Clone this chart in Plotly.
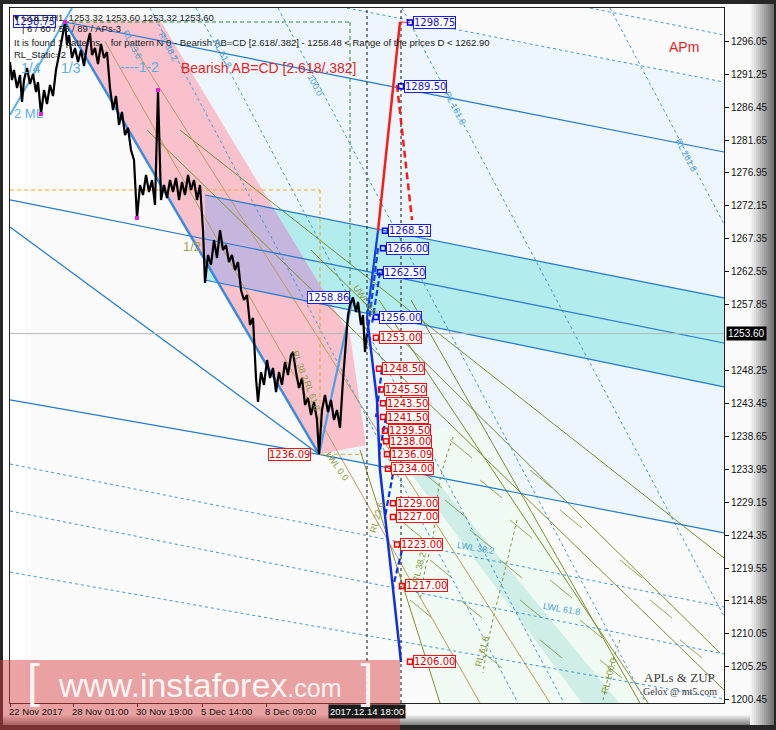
import plotly.graph_objects as go

# ---------------- data ----------------
# H1 price path (bar index counted from the left edge of the chart)
bar_idx = [0,2,4,7,10,12,14,17,20,23,26,28,31,34,37,40,43,46,49,52,55,57,59,62,65,68,71,74,77,80,
           82,85,88,91,94,97,100,103,106,109,112,115,118,121,124,127,130,133,136,139,142,145,148,151,154,157,160,163,166,169,
           172,175,178,181,184,187,190,193,195,198,201,204,207,210,213,216,219,222,225,228,231,234,237,240,243,246,248,251,254,257,
           260,263,266,269,272,275,278,281,283,286,289,292,295,298,301,304,307,309,312,315,318,321,324,327,330,333,336,338,340,343,
           346,348,351,353,355,357]
close = [1293.00,1290.39,1291.85,1289.23,1291.12,1287.20,1290.39,1292.13,1289.81,1291.26,
         1288.65,1290.10,1285.46,1288.94,1286.91,1289.67,1288.07,1291.85,1294.02,1296.20,
         1298.81,1295.47,1296.92,1293.59,1295.04,1293.00,1294.75,1292.43,1295.47,1297.21,
         1294.02,1295.04,1292.72,1295.62,1293.59,1294.46,1289.23,1286.04,1288.07,1283.87,
         1285.75,1282.41,1283.43,1280.24,1278.79,1270.37,1275.16,1273.71,1276.61,1274.14,
         1275.89,1272.26,1288.94,1272.99,1275.16,1273.28,1275.89,1274.14,1276.18,1272.99,
         1275.60,1273.71,1276.61,1274.44,1275.89,1272.99,1275.16,1268.63,1260.95,1265.01,
         1263.56,1267.18,1264.57,1268.63,1265.73,1266.46,1263.99,1265.01,1262.83,1263.99,
         1259.93,1258.48,1259.20,1254.85,1255.87,1247.16,1243.68,1248.03,1246.15,1249.77,
         1247.16,1248.61,1245.13,1248.03,1246.15,1249.48,1247.60,1250.49,1250.93,1248.03,
         1245.71,1247.16,1243.25,1244.27,1241.79,1243.68,1241.07,1236.09,1242.52,1244.70,
         1242.23,1243.97,1241.07,1242.52,1239.91,1246.87,1251.95,1256.30,1257.75,1258.86,
         1256.74,1258.19,1254.85,1256.30,1250.93,1253.60]

pivot_bars = [31, 55, 127, 148]
pivot_prices = [1285.46, 1298.81, 1270.37, 1288.94]

current_price = 1253.60
current_bar = 357
cursor_bars = [357, 391]

ytick_vals = [1296.05,1291.25,1286.45,1281.65,1276.95,1272.15,1267.35,1262.55,1257.85,
              1248.25,1243.45,1238.65,1233.95,1229.15,1224.35,1219.55,1214.85,1210.05,1205.25,1200.45]
xtick_bars = [0, 63, 127, 192, 256]
xtick_text = ["22 Nov 2017", "28 Nov 01:00", "30 Nov 19:00", "5 Dec 14:00", "8 Dec 09:00"]
current_time_text = "2017.12.14 18:00"

# filled zones (bar, price)
zone_lightblue = [(140,1300.84),(337,1300.84),(714,1290.10),(714,1224.68),(309,1236.09)]
zone_green = [(355,1238.2),(469,1240.6),(630,1200.01),(430,1200.01)]
zone_teal = [(376,1238.17),(393,1238.17),(609,1200.01),(572,1200.01)]
zone_cyan = [(195,1273.71),(714,1258.77),(714,1245.86),(195,1261.38)]
zone_pink = [(55,1298.81),(150,1299.10),(340,1253.40),(356,1237.44),(309,1236.09)]

# pattern / channel lines (bar0, price0, bar1, price1)
ab_leg = [(55,1298.81,309,1236.09)]
bc_leg = [(309,1236.09,343,1258.86)]
blue_lines = [(55,1298.81,714,1279.95),
              (195,1273.71,714,1258.77),
              (195,1261.38,714,1245.86),
              (0,1272.99,714,1252.24),
              (0,1269.07,309,1236.09),
              (309,1236.09,714,1224.68),
              (0,1244.0,309,1236.09)]
light_blue_lines = [(0,1285.32,62,1300.84)]
dotted_blue_lines = [(337,1300.84,714,1290.10),
                     (580,1300.84,714,1296.92),
                     (140,1300.84,508,1200.01),
                     (186,1300.84,554,1200.01),
                     (268,1300.84,636,1200.01),
                     (392,1300.84,714,1212.6),
                     (600,1300.84,714,1269.5),
                     (0,1234.68,714,1213.94),
                     (0,1227.87,714,1207.12),
                     (0,1219.0,714,1200.6)]
tan_lines = [(95,1296.0,470,1200.01),
             (120,1296.0,540,1200.01)]
olive_lines = [(137,1283.14,714,1201.90),
               (170,1283.14,714,1221.05),
               (369,1258.48,638,1200.01),
               (301,1265.73,710,1207.27),
               (401,1258.48,630,1200.01),
               (350,1236.72,430,1200.01)]
olive_hatch = [(410,1233.82,432,1231.21),(435,1229.46,457,1226.85),(460,1225.11,482,1222.50),
               (390,1226.56,412,1223.95),(420,1220.76,442,1218.15),(450,1214.96,472,1212.35),
               (400,1214.96,422,1212.35),(470,1207.70,492,1205.09),(490,1220.76,512,1218.15),
               (510,1214.96,532,1212.35),(530,1209.16,552,1206.54),(440,1238.17,462,1235.56),
               (470,1232.37,492,1229.76),(500,1226.56,522,1223.95),(540,1217.86,562,1215.25),
               (570,1212.06,592,1209.45),(590,1206.25,612,1203.64),(520,1233.82,542,1231.21),
               (550,1228.01,572,1225.40),(610,1220.76,632,1218.15),(640,1214.96,662,1212.35),
               (670,1209.16,692,1206.54)]
olive_arcs = [([443,430,423,415,410], [1238.60,1232.37,1224.10,1219.31,1214.96]),
              ([507,495,480,473], [1226.56,1219.31,1210.17,1204.37]),
              ([610,600,593], [1209.16,1204.80,1200.45])]
orange_dashed = [(0,1274.44,310,1274.44),(310,1274.44,310,1236.09),(310,1236.09,353,1236.09)]
green_dashed = [(55,1298.81,340,1298.81),(340,1298.81,340,1258.48)]

red_up = [(368,1268.51,390,1298.81)]
red_down = [(387,1289.67,402,1270.08)]
zup_up = [(357,1256.00,368,1268.51)]
zup_up_dash = [(368,1266.00,357,1253.00),(370,1262.50,362,1255.0)]
zup_down_bars = [357,367,370,378,383,391]
zup_down_prices = [1256.00,1243.97,1233.82,1223.23,1216.84,1205.96]
zup_down_dash = [(383,1233.30,375,1227.00),(392,1222.20,383,1216.84),(372,1248.5,366,1241.5),(376,1241.5,369,1236.0)]

blue_label_prices = [1298.75,1289.50,1268.51,1266.00,1262.50,1256.00]
blue_label_bars = [400,391,375,373,370,366]
red_label_prices = [1253.00,1248.50,1245.50,1243.50,1241.50,1239.50,1238.00,1236.09,1234.00,
                    1229.00,1227.00,1223.00,1217.00,1206.00]
red_label_bars = [366,369,371,373,373,375,376,377,378,383,383,387,392,400]
left_labels = [("1298.75", 55, 1298.81, "blue", -9), ("1258.86", 343, 1258.86, "blue", -3),
               ("1236.09", 309, 1236.09, "red", -8)]

# ---------------- figure ----------------
W, H = 776, 730
L, R, T, B = 10, 724, 8, 703
X_RANGE = [0, 714]
Y_RANGE = [1200.01, 1300.84]

def px(x):
    return (x - L) / (R - L)

def py(y):
    return (B - y) / (B - T)

fig = go.Figure()

def poly(pts, color):
    xs = [p[0] for p in pts] + [pts[0][0]]
    ys = [p[1] for p in pts] + [pts[0][1]]
    fig.add_trace(go.Scatter(x=xs, y=ys, mode="lines", fill="toself", fillcolor=color,
                             line=dict(width=0), hoverinfo="skip", showlegend=False))

def seg(lines, color, width=1.0, dash="solid"):
    xs, ys = [], []
    for a, b, c, d in lines:
        xs += [a, c, None]
        ys += [b, d, None]
    fig.add_trace(go.Scatter(x=xs, y=ys, mode="lines", line=dict(color=color, width=width, dash=dash),
                             hoverinfo="skip", showlegend=False))

def area(p):
    s = 0
    for i in range(len(p)):
        x1, y1 = p[i]
        x2, y2 = p[(i + 1) % len(p)]
        s += x1 * y2 - x2 * y1
    return s / 2

def clip(subject, clipper):
    if area(clipper) < 0:
        clipper = clipper[::-1]
    def inside(p, a, b):
        return (b[0]-a[0])*(p[1]-a[1]) - (b[1]-a[1])*(p[0]-a[0]) >= 0
    def inter(p1, p2, a, b):
        x1, y1 = p1; x2, y2 = p2; x3, y3 = a; x4, y4 = b
        den = (x1-x2)*(y3-y4) - (y1-y2)*(x3-x4)
        t = ((x1-x3)*(y3-y4) - (y1-y3)*(x3-x4)) / den
        return (x1 + t*(x2-x1), y1 + t*(y2-y1))
    out = list(subject)
    for i in range(len(clipper)):
        a, b = clipper[i], clipper[(i + 1) % len(clipper)]
        inp, out = out, []
        if not inp:
            break
        s = inp[-1]
        for e in inp:
            if inside(e, a, b):
                if not inside(s, a, b):
                    out.append(inter(s, e, a, b))
                out.append(e)
            elif inside(s, a, b):
                out.append(inter(s, e, a, b))
            s = e
    return out

# zones
poly(zone_lightblue, "#eef6fd")
poly(zone_green, "#effbf3")
poly(zone_teal, "#cfeee7")
poly(zone_cyan, "#b3ecec")
poly(zone_pink, "#f8c1cc")
overlap = clip(zone_pink, zone_cyan)
if overlap:
    poly(overlap, "#c6b6dd")

# lines
seg(olive_hatch, "#7b8f2a", 0.8)
seg(olive_lines, "#7b8f2a", 1)
for xs, ys in olive_arcs:
    fig.add_trace(go.Scatter(x=xs, y=ys, mode="lines", line=dict(color="#7b8f2a", width=1, dash="3px,3px",
                                                                 shape="spline"),
                             hoverinfo="skip", showlegend=False))
seg(tan_lines, "#c09a5a", 1)
seg(dotted_blue_lines, "#3d9ad9", 1, "3px,3px")
seg(blue_lines, "#1f78d1", 1.2)
seg(light_blue_lines, "#5ab0ec", 2)
seg(orange_dashed, "#f5a623", 1, "4px,3px")
seg(green_dashed, "#2e8b2e", 1, "4px,3px")
seg([(X_RANGE[0], current_price, X_RANGE[1], current_price)], "#b8b8b8", 1)
seg([(b, Y_RANGE[0], b, Y_RANGE[1]) for b in cursor_bars], "#111111", 1, "3px,3px")
seg(ab_leg, "#3a8be0", 2.5)
seg(bc_leg, "#4aa0ea", 2.2)

# price
fig.add_trace(go.Scatter(x=bar_idx, y=close, mode="lines", line=dict(color="#000000", width=2.2),
                         hoverinfo="skip", showlegend=False))
fig.add_trace(go.Scatter(x=pivot_bars, y=pivot_prices, mode="markers",
                         marker=dict(color="#e020e0", size=4, symbol="square"),
                         hoverinfo="skip", showlegend=False))

# projections
seg(red_up, "#ff1a1a", 2.5)
seg(red_down, "#ff1a1a", 2.5, "7px,4px")
seg(zup_up, "#1440e0", 2.2)
seg(zup_up_dash, "#1440e0", 2.2, "6px,3px")
fig.add_trace(go.Scatter(x=zup_down_bars, y=zup_down_prices, mode="lines",
                         line=dict(color="#1030e0", width=2.5), hoverinfo="skip", showlegend=False))
seg(zup_down_dash, "#1030e0", 2.2, "6px,3px")
seg([(390, 1298.81, 400, 1298.75)], "#ff1a1a", 1)

# label markers
fig.add_trace(go.Scatter(x=blue_label_bars, y=blue_label_prices, mode="markers",
                         marker=dict(symbol="square-open", size=5, color="#0000ff", line=dict(width=1.5)),
                         hoverinfo="skip", showlegend=False))
fig.add_trace(go.Scatter(x=red_label_bars, y=red_label_prices, mode="markers",
                         marker=dict(symbol="square-open", size=5, color="#ff0000", line=dict(width=1.5)),
                         hoverinfo="skip", showlegend=False))

ann = []
LBL_FONT = "DejaVu Sans"
for b, p in zip(blue_label_bars, blue_label_prices):
    ann.append(dict(x=b, y=p, text=f"{p:.2f}", xanchor="left", yanchor="middle", xshift=3, showarrow=False,
                    font=dict(family=LBL_FONT, size=10, color="#1414c8"), bgcolor="#ffffff",
                    bordercolor="#1a1aff", borderwidth=1, borderpad=0))
for b, p in zip(red_label_bars, red_label_prices):
    ann.append(dict(x=b, y=p, text=f"{p:.2f}", xanchor="left", yanchor="middle", xshift=3, showarrow=False,
                    font=dict(family=LBL_FONT, size=10, color="#d40000"), bgcolor="#ffffff",
                    bordercolor="#ff1010", borderwidth=1, borderpad=0))
for t, b, p, c, sh in left_labels:
    col = ("#1414c8", "#1a1aff") if c == "blue" else ("#d40000", "#ff1010")
    ann.append(dict(x=b, y=p, text=t, xanchor="right", yanchor="middle", xshift=sh, showarrow=False,
                    font=dict(family=LBL_FONT, size=10, color=col[0]), bgcolor="#ffffff",
                    bordercolor=col[1], borderwidth=1, borderpad=0))

def txt(text, x, y, size=10, color="#202020", family="Liberation Sans", xanchor="left", angle=0, **kw):
    d = dict(text=text, x=px(x), y=py(y), xref="paper", yref="paper", xanchor=xanchor, yanchor="middle",
             showarrow=False, textangle=angle, font=dict(family=family, size=size, color=color))
    d.update(kw)
    ann.append(d)

txt("▾ GOLD,H1  1253.32 1253.60 1253.32 1253.60", 12, 17, 9.5)
txt("| 6 / 60 / 55 / 89 / APs-3", 20, 29, 9.5)
txt("It is found 1 patterns    for pattern N 0 - Bearish AB=CD [2.618/.382] - 1258.48 < Range of the prices D < 1262.90",
    12, 42, 9.5)
txt("RL_Static=2", 12, 55, 9.5)
txt("Bearish AB=CD [2.618/.382]", 179, 68, 14, "#e8231f")
txt("APm", 667, 47, 14, "#e8231f")
txt("1/4", 19, 68, 14, "#5aaee8")
txt("1/3", 59, 68, 14, "#5aaee8")
txt("----1-2", 118, 67, 14, "#5aaee8")
txt("2 ML", 12, 114, 13, "#5aaee8")
txt("1/2", 181, 246, 13, "#a3a34a")
txt("APLs &amp; ZUP", 679, 677, 13, "#3a3a3a", "Liberation Serif", "center")
txt("Gelox @ mt5.com", 680, 691, 10, "#3a3a3a", "Liberation Serif", "center")
for t, x, y, a in [("RL 23.6", 132, 44, 62), ("RL 38.2", 168, 46, 62), ("RL 61.8", 222, 53, 62),
                   ("100.0", 315, 85, 62), ("RL 161.8", 455, 108, 62), ("RL 261.8", 686, 155, 62),
                   ("LWL 38.2", 476, 548, 10), ("LWL 61.8", 562, 609, 10)]:
    txt(t, x, y, 9, "#4a9fdc", xanchor="center", angle=a)
for t, x, y, a in [("RL 23.6", 377, 517, -75), ("RL 38.2", 419, 568, -75), ("RL 61.8", 482, 652, -75),
                   ("RL 100.0", 609, 676, -75), ("UWL 0.0", 365, 300, 55), ("LWL 0.0", 337, 466, 55),
                   ("RL 38.2", 300, 365, 70), ("RL 61.8", 312, 395, 70)]:
    txt(t, x, y, 9, "#8a9a3a", xanchor="center", angle=a)

# x tick labels (MetaTrader style: text starts at the tick)
for b, t in zip(xtick_bars, xtick_text):
    ann.append(dict(x=b, y=0, xref="x", yref="paper", text=t, xanchor="left", yanchor="top", yshift=-1, xshift=-3,
                    showarrow=False, font=dict(family="Liberation Sans", size=9.5, color="#111111")))
ann.append(dict(x=current_bar, y=0, xref="x", yref="paper", text=current_time_text, xanchor="center",
                yanchor="top", yshift=-1, showarrow=False, bgcolor="#1a1a1a", borderpad=1,
                font=dict(family="Liberation Sans", size=9.5, color="#ffffff")))
ann.append(dict(x=1, y=current_price, xref="paper", yref="y", text=f"{current_price:.2f}", xanchor="left",
                yanchor="middle", xshift=2, showarrow=False, bgcolor="#000000", borderpad=1,
                font=dict(family="Liberation Sans", size=10, color="#ffffff")))
# watermark text
ann.append(dict(x=px(200), y=py(709), xref="paper", yref="paper", xanchor="center", yanchor="bottom",
                showarrow=False,
                text=("<span style='font-size:46px'>[</span>&nbsp;&nbsp;www.instaforex"
                      "<span style='font-size:25px'>.com</span>&nbsp;&nbsp;<span style='font-size:46px'>]</span>"),
                font=dict(family="Liberation Sans", size=34, color="rgba(255,255,255,0.92)")))

shapes = []
# outer frame
shapes.append(dict(type="rect", xref="paper", yref="paper", x0=px(3), x1=px(772), y0=py(725), y1=py(4),
                   fillcolor="#fbfbfb", line=dict(width=0), layer="below"))
for i in range(12):
    g = int(245 - i * 12)
    shapes.append(dict(type="rect", xref="paper", yref="paper", x0=px(750 + i * 2), x1=px(752 + i * 2),
                       y0=py(725), y1=py(4), fillcolor=f"rgb({g},{g},{g})", line=dict(width=0), layer="below"))
for i in range(10):
    g = int(240 - i * 12)
    shapes.append(dict(type="rect", xref="paper", yref="paper", x0=px(3), x1=px(750),
                       y0=py(716 + i), y1=py(715 + i), fillcolor=f"rgb({g},{g},{g})", line=dict(width=0),
                       layer="below"))
# white strip at the chart's left edge
shapes.append(dict(type="rect", xref="x", yref="paper", x0=0, x1=15, y0=0, y1=1,
                   fillcolor="#ffffff", line=dict(width=0), layer="below"))
# watermark band
shapes.append(dict(type="rect", xref="paper", yref="paper", x0=px(0), x1=px(400), y0=py(730), y1=py(660),
                   fillcolor="rgba(214,62,62,0.48)", line=dict(width=0), layer="above"))

fig.update_layout(
    width=W, height=H,
    margin=dict(l=L, r=W - R, t=T, b=H - B),
    paper_bgcolor="#262626",
    plot_bgcolor="#f3f3f3",
    showlegend=False,
    annotations=ann,
    shapes=shapes,
    xaxis=dict(range=X_RANGE, showgrid=False, zeroline=False, showline=True, linecolor="#222222",
               linewidth=1, mirror=True, tickvals=xtick_bars, ticks="outside", ticklen=3,
               tickcolor="#111111", showticklabels=False, fixedrange=True),
    yaxis=dict(range=Y_RANGE, side="right", showgrid=False, zeroline=False, showline=True,
               linecolor="#222222", linewidth=1, mirror=True, tickvals=ytick_vals,
               ticktext=[f"{v:.2f}" for v in ytick_vals], ticks="outside", ticklen=4,
               tickcolor="#111111", tickfont=dict(family="Liberation Sans", size=10, color="#111111"),
               fixedrange=True),
)

fig.write_html("out.html", config={"displayModeBar": False},
               post_script="document.body.style.margin='0';document.body.style.overflow='hidden';")
